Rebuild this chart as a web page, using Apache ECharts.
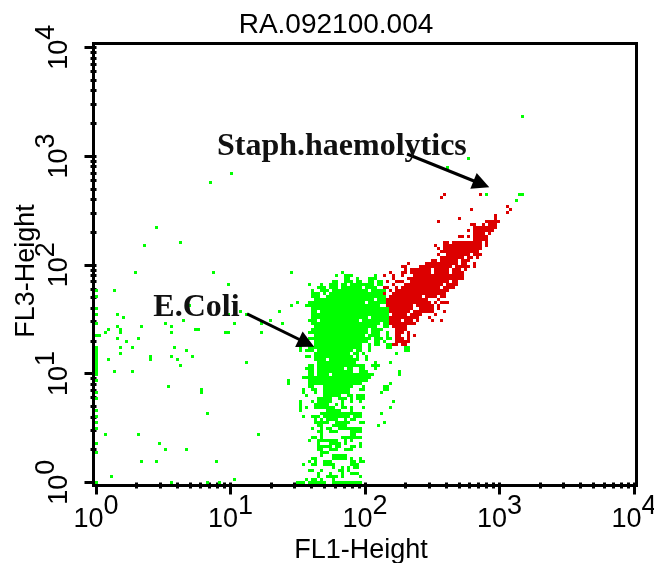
<!DOCTYPE html>
<html>
<head>
<meta charset="utf-8">
<style>
  html, body { margin: 0; background: #fff; }
  #chart { width: 654px; height: 563px; }
</style>
</head>
<body>
<div id="chart"></div>
<script src="https://cdn.jsdelivr.net/npm/echarts@6/dist/echarts.min.js"></script>
<script>
// values are cytometer channels (one channel = one dot on the plot)
var CH_PER_DECADE_X = 44.83;
var CH_PER_DECADE_Y = 36.25;

var decades = [0, 1, 2, 3, 4];
var minorMultipliers = [2, 3, 4, 5, 6, 7, 8, 9];

// [FL3 channel, [FL1 from, to, from, to, ...]]
var greenRows = [
  [70, [65,65,82,82]], [69, [80,80,83,85,93,93]], [68, [83,84,87,87,91,93]],
  [67, [79,80,83,85,87,88,91,92,94,95]], [66, [71,71,75,75,78,80,82,83,85,92,94,95]],
  [65, [74,76,78,80,82,88,90,93]], [64, [72,72,75,77,79,90,92,96]],
  [63, [72,74,76,76,78,96]], [62, [72,74,77,96]], [61, [73,92,94,97]],
  [60, [67,67,71,89,91,96]], [59, [65,65,70,94]], [58, [72,97]],
  [57, [72,73,75,97]], [56, [72,97]], [55, [72,90,92,97]],
  [54, [71,73,75,87,89,97]], [53, [62,62,72,94,96,97]], [52, [73,93,96,97]],
  [51, [72,90,92,95]], [50, [71,90,92,94,97,97]], [49, [73,89,91,94,97,97]],
  [48, [71,91,93,95,97,98]], [47, [73,90,93,94,96,96]],
  [46, [73,88,91,91,93,94,97,98]], [45, [68,68,71,86,87,88,91,91,97,98,103,104]],
  [44, [68,68,70,72,74,85,87,88,91,91,103,104]], [43, [73,84,86,87,89,89,100,100]],
  [42, [70,71,73,85,87,87,90,90]], [41, [73,76,78,87,90,90]],
  [40, [74,86,93,93,98,98]], [39, [71,72,74,89,92,94]],
  [38, [70,72,74,78,79,82,84,85,88,89,93,93]], [37, [71,72,74,85,88,90,101,101]],
  [36, [71,72,74,77,79,92,101,101]], [35, [69,91]], [34, [71,90]],
  [33, [64,64,71,88,98,98]], [32, [71,72,76,85,89,89,96,97]],
  [31, [69,69,72,73,76,84,88,89,96,97]], [30, [69,69,73,73,76,84,95,95]],
  [29, [70,70,76,81,84,85,87,89]], [28, [74,78,81,83,85,85,87,89]],
  [27, [68,68,72,72,74,78,82,82,85,85,88,88,99,99]], [26, [68,68,73,77,80,80,82,82]],
  [25, [68,68,70,70,73,79,82,83,85,85,89,89,98,98]], [24, [77,81,85,85]],
  [23, [75,88,95,95]], [22, [69,69,72,74,76,82,83,84,86,88]],
  [21, [73,73,75,75,77,80,83,83,85,85,86,86]], [20, [73,74,75,77,80,84,88,89,96,96]],
  [19, [74,75,79,83,94,94]], [18, [72,72,75,75,77,78,81,82,83,87,88,88]],
  [17, [74,75,78,80,85,87,88,88]], [16, [75,75,85,86]],
  [15, [72,73,75,75,82,83,84,88]], [14, [71,71,74,80,83,83,85,85]],
  [13, [74,74,78,81,83,83,88,88]], [12, [74,78,80,81,85,86,88,88]],
  [11, [74,75,78,80,83,85]], [10, [75,77]], [9, [75,75,79,83]],
  [8, [72,73,79,83,85,85,88,88]], [7, [71,71,73,73,76,78,85,85,86,86,88,89]],
  [6, [69,69,72,73,76,79,85,85,86,87]], [5, [79,79,82,82,84,84,86,87]],
  [4, [71,72,75,75,81,82,84,84]], [3, [74,74,78,78,82,82,85,87]],
  [2, [74,74,77,80,82,82,88,88]], [1, [70,70,72,73,75,75,79,79]],
  [0, [67,69,71,76,79,88]]
];

// lone green events outside the main population [FL1, FL3]
var greenScatter = [
  [142,122],[101,115],[124,108],[117,105],[45,103],[38,100],[130,96],[141,96],[142,96],[140,94],
  [20,85],[28,80],[16,79],[13,70],[39,70],[65,70],[44,66],[0,64],[6,64],[0,62],[67,60],
  [31,59],[65,59],[0,58],[48,57],[61,57],[0,56],[7,56],[44,56],[50,56],[9,55],[29,54],[58,54],
  [0,53],[23,53],[46,53],[55,53],[62,53],[7,52],[15,52],[25,52],[4,51],[8,51],[33,51],[34,51],
  [3,50],[8,50],[25,50],[43,50],[44,50],[55,50],[0,49],[1,49],[7,48],[14,48],[10,47],
  [0,45],[8,45],[12,45],[26,45],[0,44],[30,44],[0,43],[8,43],[0,42],[18,42],[25,42],[32,42],
  [0,41],[4,41],[18,41],[27,41],[0,40],[50,40],[0,39],[28,39],[0,38],[0,37],[6,37],[12,37],
  [0,36],[0,34],[64,34],[24,32],[35,31],[0,30],[35,30],[0,28],[68,26],[0,24],[68,24],[37,23],
  [0,22],[0,20],[0,18],[3,16],[14,16],[54,16],[0,13],[21,13],[23,11],[30,11],[0,10],
  [15,7],[20,7],[40,7],[5,2],[46,1],[0,0],[25,0],[37,0],[41,0],[67,0],[68,0]
];

var redRows = [
  [96, [116,116,128,128]], [95, [115,115]], [92, [137,137]], [91, [125,125,138,138]],
  [90, [137,137]], [89, [133,133]], [88, [121,121,133,133]],
  [87, [114,114,130,133,134,134]], [86, [125,126,129,129,131,133]], [85, [126,133]],
  [84, [124,124,126,130,131,132]], [83, [126,129,131,131]],
  [82, [121,122,124,124,126,130]], [81, [126,129,130,130]],
  [80, [116,117,119,128,130,130]], [79, [113,113,116,128,130,130]],
  [78, [114,114,116,127,128,128]], [77, [115,115,116,127]],
  [76, [114,114,117,124,126,126,127,128]], [75, [115,122,124,125,127,127]],
  [74, [112,113,115,120,122,124]], [73, [104,104,110,120,122,122,123,123,126,126]],
  [72, [102,103,108,118,120,122,123,124,126,126]],
  [71, [103,103,105,111,113,117,119,121,123,123]],
  [70, [98,98,102,103,105,111,113,117,119,122]],
  [69, [96,96,99,99,102,102,106,110,111,122]], [68, [99,99,104,107,108,122]],
  [67, [97,97,100,102,105,107,108,117,119,120]], [66, [99,99,103,115,117,120]],
  [65, [96,97,100,100,102,114,116,119]], [64, [98,98,100,113,114,117]],
  [63, [96,96,99,109,110,116]], [62, [98,108,110,113,115,116]],
  [61, [97,110,114,114]], [60, [97,111,113,113,115,117]],
  [59, [97,105,107,112,114,114]], [58, [98,105,108,112,114,114]],
  [57, [98,104,106,112,116,116]], [56, [99,103,105,108,113,113]],
  [55, [98,107,111,111]], [54, [98,101,103,105,107,107,112,112,115,115]],
  [53, [98,106]], [52, [99,103]], [51, [100,103]], [50, [100,102,104,104]],
  [49, [100,101,104,104,106,106]], [48, [100,102,104,104]],
  [47, [100,103,104,104]], [46, [99,100,102,103]]
];

// [FL1, FL3, text]
var annotations = [
  [81.8, 111.8, 'Staph.haemolytics'],
  [33.3, 58.2, 'E.Coli']
];
// [[FL1, FL3], [FL1, FL3]] tail, then tip
var arrows = [
  [[103.5, 109.5], [128.3, 99.5]],
  [[50.2, 56.2], [70, 46.5]]
];

function expandRows(rows) {
  var out = [];
  rows.forEach(function (row) {
    for (var i = 0; i < row[1].length; i += 2) {
      for (var k = row[1][i]; k <= row[1][i + 1]; k++) out.push([k, row[0]]);
    }
  });
  return out;
}

function xCh(decade) { return -0.17 + decade * CH_PER_DECADE_X; }
function yCh(decade) { return 0.07 + decade * CH_PER_DECADE_Y; }

function minorTicks(toCh) {
  var out = [];
  decades.slice(0, -1).forEach(function (d) {
    minorMultipliers.forEach(function (m) { out.push(toCh(d + Math.log10(m))); });
  });
  return out;
}

function powerLabel(toCh) {
  return function (value) {
    var d = decades.filter(function (e) { return Math.abs(toCh(e) - value) < 0.01; })[0];
    return '{b|10}{e|' + d + '}';
  };
}

var labelRich = {
  b: { fontSize: 27, fontFamily: 'Liberation Sans', color: '#000', verticalAlign: 'bottom', lineHeight: 40 },
  e: { fontSize: 27, fontFamily: 'Liberation Sans', color: '#000', verticalAlign: 'top', lineHeight: 40, padding: [0, 0, 15, 0] }
};
var nameStyle = { fontSize: 27, fontFamily: 'Liberation Sans', color: '#000' };

function axisPair(side, min, max, toCh, extra) {
  var minor = {
    type: 'value', position: side, min: min, max: max,
    axisLine: { show: false }, splitLine: { show: false },
    axisLabel: { show: false },
    axisTick: { show: true, length: 6, customValues: minorTicks(toCh), lineStyle: { color: '#000', width: 3 } }
  };
  var majors = decades.map(toCh);
  var major = Object.assign({
    type: 'value', position: side, min: min, max: max,
    axisLine: { show: false }, splitLine: { show: false },
    axisTick: { show: true, length: 12, customValues: majors, lineStyle: { color: '#000', width: 3 } }
  }, extra);
  major.axisLabel = Object.assign({ show: true, customValues: majors, formatter: powerLabel(toCh), rich: labelRich, hideOverlap: false }, extra.axisLabel);
  return [minor, major];
}

var option = {
  animation: false,
  backgroundColor: '#fff',
  title: {
    text: 'RA.092100.004', left: 331, top: 6, textAlign: 'center',
    textStyle: { fontSize: 28, fontWeight: 'normal', fontFamily: 'Liberation Sans', color: '#000' }
  },
  grid: {
    show: true, left: 93.5, top: 43.5, width: 543, height: 442, outerBoundsMode: 'none',
    borderColor: '#000', borderWidth: 3, backgroundColor: 'transparent'
  },
  xAxis: axisPair('bottom', -1, 180, xCh, {
    name: 'FL1-Height', nameLocation: 'middle', nameGap: 52, nameMoveOverlap: false,
    nameTextStyle: Object.assign({ padding: [0, 8, 0, 0] }, nameStyle),
    axisLabel: { margin: 8 }
  }),
  yAxis: axisPair('left', -1, 146.33, yCh, {
    name: 'FL3-Height', nameLocation: 'middle', nameGap: 53, nameMoveOverlap: false,
    nameTextStyle: Object.assign({ padding: [0, 13, 0, 0] }, nameStyle),
    axisLabel: { rotate: 90, margin: 20 }
  }),
  series: [
    {
      type: 'scatter', name: 'green', xAxisIndex: 0, yAxisIndex: 0, symbol: 'rect', symbolSize: 3, silent: true,
      itemStyle: { color: '#00ff00', opacity: 1 }, data: expandRows(greenRows).concat(greenScatter)
    },
    {
      type: 'scatter', name: 'red', xAxisIndex: 0, yAxisIndex: 0, symbol: 'rect', symbolSize: 3, silent: true,
      itemStyle: { color: '#dc0000', opacity: 1 }, data: expandRows(redRows)
    },
    {
      type: 'scatter', name: 'notes', xAxisIndex: 0, yAxisIndex: 0, symbolSize: 0, silent: true, z: 5,
      itemStyle: { opacity: 1 },
      data: annotations.map(function (a) { return { value: [a[0], a[1]], name: a[2] }; }),
      label: {
        show: true, position: 'inside', formatter: '{b}', color: '#111', opacity: 1,
        fontFamily: 'Liberation Serif', fontWeight: 'bold', fontSize: 32
      },
      markLine: {
        silent: true, symbol: ['none', 'triangle'], symbolSize: 17, label: { show: false },
        lineStyle: { color: '#000', width: 3, type: 'solid', opacity: 1 },
        data: arrows.map(function (a) {
          return [{ coord: a[0] }, { coord: a[1] }];
        })
      }
    }
  ]
};

var myChart = echarts.init(document.getElementById('chart'));
myChart.setOption(option);
</script>
</body>
</html>
